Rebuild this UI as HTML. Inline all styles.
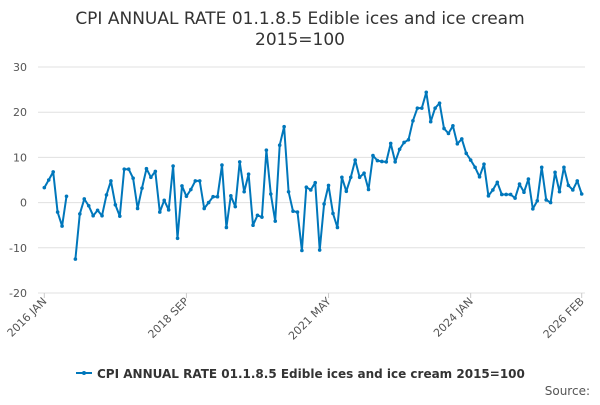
<!DOCTYPE html>
<html><head><meta charset="utf-8"><style>
body{margin:0;background:#fff;font-family:"Liberation Sans","DejaVu Sans",sans-serif;}
svg text{font-family:"DejaVu Sans","Liberation Sans",sans-serif;}
</style></head><body>
<svg id="chart" width="600" height="400">
<text x="300" y="24" text-anchor="middle" font-size="17" fill="#333"><tspan x="300">CPI ANNUAL RATE 01.1.8.5 Edible ices and ice cream</tspan><tspan x="300" dy="21">2015=100</tspan></text>
<g id="grid"></g><g id="axes"></g><g id="series"></g>
<g>
<line x1="76" y1="373" x2="92" y2="373" stroke="#0077bb" stroke-width="2"/>
<circle cx="84" cy="373" r="2" fill="#0077bb"/>
<text x="97" y="378" font-size="12" font-weight="bold" fill="#333">CPI ANNUAL RATE 01.1.8.5 Edible ices and ice cream 2015=100</text>
</g>
<text x="590" y="395" text-anchor="end" font-size="12" fill="#555">Source:</text>
</svg>
<script>
const values=[3.3,5,6.8,-2.1,-5.2,1.4,null,-12.5,-2.5,0.8,-0.7,-2.9,-1.7,-2.9,1.7,4.8,-0.5,-3,7.4,7.4,5.4,-1.3,3.2,7.5,5.6,6.9,-2.1,0.5,-1.6,8.1,-7.9,3.7,1.4,2.9,4.8,4.8,-1.3,0,1.3,1.3,
8.3,-5.5,1.5,-0.9,9,2.4,6.3,-5,-2.8,-3.2,11.6,1.9,-4.1,12.7,16.8,2.4,-1.9,-2.1,-10.6,3.4,2.8,4.4,-10.5,-0.3,3.8,-2.4,-5.5,5.6,2.5,5.6,9.4,5.6,6.5,2.9,10.4,9.3,9.1,9.0,13.1,9.0,11.8,
13.3,13.9,18.1,20.9,20.9,24.4,17.9,20.9,22,16.4,15.3,17,13,14.1,10.9,9.4,7.8,5.7,8.5,1.5,2.8,4.5,1.8,1.8,1.8,1,4.1,2.3,5.2,-1.4,0.4,7.8,0.6,0,6.7,2.4,7.8,3.8,2.8,4.8,1.9];
const yTicks=[30,20,10,0,-10,-20];
const xTickIdx=[0,32,64,96,121];
const xTickLabels=["2016 JAN","2018 SEP","2021 MAY","2024 JAN","2026 FEB"];
const NS="http://www.w3.org/2000/svg";
const x=i=>44.3+i*(581.7-44.3)/(values.length-1);
const y=v=>202.6-v*4.52;
function mk(t,a,p){const e=document.createElementNS(NS,t);for(const k in a)e.setAttribute(k,a[k]);p.appendChild(e);return e;}
const grid=document.getElementById('grid'),axes=document.getElementById('axes'),ser=document.getElementById('series');
yTicks.forEach(v=>{
 const l=mk('line',{x1:38,x2:585,y1:y(v),y2:y(v),stroke:'#e0e0e0','stroke-width':1},grid);
 
 
 const t=mk('text',{x:27,y:y(v)+4,'text-anchor':'end','font-size':11,fill:'#555'},axes);
 t.textContent=v;
 
 
});
xTickIdx.forEach((i,k)=>{
 const tk=mk('line',{x1:x(i),x2:x(i),y1:293,y2:298,stroke:'#ccc'},axes);
 
 
 const t=mk('text',{x:x(i)+3,y:302,'text-anchor':'end','font-size':11,fill:'#555',transform:`rotate(-45 ${x(i)+3} 302)`},axes);
 t.textContent=xTickLabels[k];
 
 
});
let d='',pen=false;
values.forEach((v,i)=>{if(v===null){pen=false;return;}d+=(pen?'L':'M')+x(i).toFixed(1)+','+y(v).toFixed(1);pen=true;});
const p=mk('path',{d:d,fill:'none',stroke:'#0077bb','stroke-width':2,'stroke-linejoin':'round'},ser);


values.forEach((v,i)=>{if(v===null)return;
 const c=mk('circle',{cx:x(i),cy:y(v),r:1.8,fill:'#0077bb'},ser);
 
 
});
</script>
</body></html>
